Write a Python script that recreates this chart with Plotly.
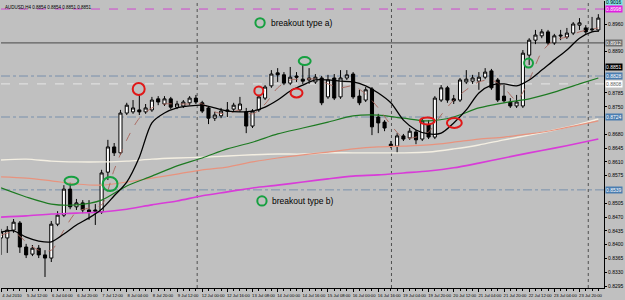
import plotly.graph_objects as go

# ---------------- data (AUDUSD H4) ----------------
open_ = [0.8417,0.8417,0.8437,0.8455,0.8394,0.8376,0.8391,0.8374,0.8366,0.8452,
         0.8475,0.8541,0.8496,0.8506,0.8488,0.8488,0.8483,0.8584,0.8648,0.8633,
         0.8734,0.8737,0.8742,0.8737,0.8742,0.8770,0.8757,0.8770,0.8749,0.8752,
         0.8760,0.8772,0.8760,0.8747,0.8721,0.8727,0.8742,0.8744,0.8742,0.8737,
         0.8701,0.8742,0.8772,0.8803,0.8836,0.8831,0.8810,0.8828,0.8820,0.8818,
         0.8813,0.8823,0.8775,0.8823,0.8775,0.8823,0.8833,0.8777,0.8767,0.8795,
         0.8724,0.8711,0.8655,0.8650,0.8676,0.8671,0.8686,0.8668,0.8704,0.8673,
         0.8767,0.8798,0.8770,0.8767,0.8813,0.8815,0.8815,0.8825,0.8841,0.8818,
         0.8777,0.8762,0.8752,0.8752,0.8881,0.8919,0.8930,0.8940,0.8912,0.8932,
         0.8927,0.8937,0.8957,0.8950,0.8945,0.8945]
high = [0.8440,0.8447,0.8465,0.8460,0.8402,0.8399,0.8399,0.8386,0.8460,0.8485,
        0.8551,0.8557,0.8516,0.8513,0.8513,0.8503,0.8590,0.8666,0.8658,0.8742,
        0.8760,0.8767,0.8780,0.8757,0.8775,0.8777,0.8777,0.8775,0.8765,0.8767,
        0.8777,0.8780,0.8765,0.8752,0.8737,0.8747,0.8762,0.8760,0.8775,0.8747,
        0.8744,0.8780,0.8805,0.8843,0.8848,0.8838,0.8851,0.8838,0.8856,0.8848,
        0.8833,0.8828,0.8831,0.8833,0.8843,0.8843,0.8838,0.8793,0.8800,0.8800,
        0.8732,0.8716,0.8663,0.8683,0.8681,0.8696,0.8691,0.8721,0.8716,0.8777,
        0.8805,0.8803,0.8780,0.8823,0.8843,0.8831,0.8838,0.8848,0.8846,0.8823,
        0.8805,0.8772,0.8780,0.8894,0.8924,0.8945,0.8947,0.8945,0.8935,0.8945,
        0.8950,0.8965,0.8975,0.8957,0.8978,0.8985]
low = [0.8374,0.8379,0.8430,0.8379,0.8366,0.8371,0.8366,0.8318,0.8356,0.8447,
       0.8470,0.8490,0.8488,0.8480,0.8463,0.8450,0.8478,0.8564,0.8625,0.8628,
       0.8729,0.8732,0.8729,0.8732,0.8737,0.8754,0.8752,0.8744,0.8744,0.8747,
       0.8754,0.8757,0.8734,0.8706,0.8714,0.8721,0.8724,0.8737,0.8737,0.8683,
       0.8696,0.8737,0.8767,0.8798,0.8813,0.8805,0.8805,0.8813,0.8808,0.8808,
       0.8808,0.8754,0.8770,0.8767,0.8770,0.8818,0.8770,0.8754,0.8762,0.8678,
       0.8683,0.8688,0.8645,0.8633,0.8663,0.8666,0.8655,0.8663,0.8668,0.8668,
       0.8762,0.8760,0.8757,0.8762,0.8808,0.8808,0.8793,0.8820,0.8793,0.8762,
       0.8760,0.8747,0.8747,0.8747,0.8856,0.8909,0.8924,0.8907,0.8907,0.8919,
       0.8922,0.8932,0.8945,0.8935,0.8940,0.8940]
close = [0.8432,0.8437,0.8457,0.8394,0.8374,0.8391,0.8374,0.8366,0.8452,0.8475,
         0.8541,0.8496,0.8506,0.8488,0.8483,0.8485,0.8582,0.8648,0.8633,0.8734,
         0.8754,0.8747,0.8737,0.8747,0.8767,0.8762,0.8770,0.8749,0.8757,0.8762,
         0.8772,0.8762,0.8739,0.8721,0.8729,0.8739,0.8739,0.8754,0.8757,0.8701,
         0.8739,0.8775,0.8800,0.8833,0.8831,0.8810,0.8825,0.8825,0.8815,0.8823,
         0.8825,0.8760,0.8818,0.8772,0.8823,0.8831,0.8775,0.8760,0.8793,0.8699,
         0.8709,0.8696,0.8650,0.8676,0.8668,0.8688,0.8666,0.8714,0.8673,0.8772,
         0.8798,0.8767,0.8765,0.8818,0.8820,0.8823,0.8825,0.8838,0.8798,0.8767,
         0.8765,0.8752,0.8762,0.8886,0.8919,0.8932,0.8940,0.8912,0.8930,0.8930,
         0.8937,0.8960,0.8963,0.8940,0.8947,0.8975]
bars = list(range(len(close)))

# moving-average lines
idx2 = list(range(0, 95, 2)) + [95]
ma_black = [0.8432,0.8435,0.8419,0.8409,0.8407,0.8427,0.8450,0.8468,0.8490,0.8524,
            0.8559,0.8622,0.8709,0.8734,0.8747,0.8752,0.8754,0.8747,0.8739,0.8737,
            0.8739,0.8749,0.8767,0.8790,0.8805,0.8818,0.8818,0.8815,0.8813,0.8803,
            0.8785,0.8760,0.8716,0.8691,0.8681,0.8683,0.8709,0.8742,0.8785,0.8805,
            0.8808,0.8803,0.8818,0.8843,0.8869,0.8894,0.8924,0.8940,0.8942]
ma_fast = [0.8424,0.8432,0.8407,0.8386,0.8386,0.8437,0.8483,0.8493,0.8501,0.8590,
           0.8666,0.8721,0.8747,0.8757,0.8757,0.8757,0.8757,0.8737,0.8732,0.8742,
           0.8732,0.8757,0.8798,0.8818,0.8820,0.8820,0.8808,0.8798,0.8803,0.8782,
           0.8747,0.8704,0.8671,0.8673,0.8686,0.8729,0.8767,0.8793,0.8813,0.8818,
           0.8798,0.8767,0.8818,0.8889,0.8919,0.8927,0.8940,0.8947,0.8950]
idx4 = list(range(0, 93, 4)) + [95]
ma_green = [0.8544,0.8521,0.8503,0.8501,0.8513,0.8549,0.8574,0.8600,0.8620,0.8643,
            0.8660,0.8681,0.8696,0.8711,0.8727,0.8729,0.8721,0.8714,0.8724,0.8747,
            0.8760,0.8770,0.8787,0.8808,0.8823]
ma_salmon = [0.8572,0.8569,0.8562,0.8554,0.8551,0.8559,0.8569,0.8579,0.8590,0.8597,
             0.8610,0.8620,0.8628,0.8635,0.8643,0.8648,0.8650,0.8653,0.8660,0.8668,
             0.8673,0.8681,0.8691,0.8704,0.8714]
ma_white = [0.8615,0.8617,0.8612,0.8610,0.8610,0.8612,0.8617,0.8620,0.8622,0.8625,
            0.8628,0.8630,0.8630,0.8633,0.8633,0.8633,0.8633,0.8635,0.8643,0.8653,
            0.8666,0.8678,0.8691,0.8706,0.8719]
ma_magenta = [0.8470,0.8473,0.8478,0.8480,0.8483,0.8490,0.8501,0.8511,0.8524,0.8534,
              0.8544,0.8551,0.8559,0.8567,0.8574,0.8577,0.8582,0.8587,0.8595,0.8607,
              0.8620,0.8633,0.8645,0.8658,0.8668]

time_labels = ["4 Jul 2010","5 Jul 12:00","6 Jul 04:00","6 Jul 20:00","7 Jul 12:00",
               "8 Jul 04:00","8 Jul 20:00","9 Jul 12:00","12 Jul 00:00","12 Jul 16:00",
               "13 Jul 08:00","14 Jul 00:00","14 Jul 16:00","15 Jul 08:00","16 Jul 00:00",
               "16 Jul 16:00","19 Jul 04:00","19 Jul 20:00","20 Jul 12:00","21 Jul 04:00",
               "21 Jul 20:00","22 Jul 12:00","23 Jul 04:00","23 Jul 20:00"]
time_ticks = [4 * k for k in range(len(time_labels))]

price_ticks = [0.8960,0.8890,0.8785,0.8750,0.8680,0.8645,0.8610,0.8575,
               0.8505,0.8470,0.8435,0.8400,0.8365,0.8330,0.8295]

# horizontal levels: price, colour, dash
levels = [(0.8998, "#d048d0", "dash"), (0.8912, "#484848", "solid"),
          (0.8828, "#7890ac", "dashdot"), (0.8808, "#e6e6e6", "dash"),
          (0.8724, "#7890ac", "dashdot"), (0.8539, "#7890ac", "dashdot")]
# price tags on the right axis: price, background, text colour
tags = [(0.9016, "#7fe6e6", "black"), (0.8998, "#e020e0", "white"),
        (0.8912, "#707070", "white"), (0.8851, "#000000", "white"),
        (0.8828, "#4a7db0", "white"), (0.8808, "#ffffff", "#606060"),
        (0.8724, "#4a7db0", "white"), (0.8539, "#4a7db0", "white")]
separators = [31.2, 62.1, 93.4]

# marked breakouts: bar, price, x-radius (bars), y-radius (price)
red_marks = [(21.9, 0.8795, 0.95, 0.00152), (41.0, 0.8790, 0.71, 0.00114),
             (47.0, 0.8785, 0.95, 0.00114), (67.8, 0.8714, 1.18, 0.00089),
             (72.1, 0.8709, 1.18, 0.00127)]
green_marks = [(48.3, 0.8866, 0.95, 0.00102), (83.9, 0.8861, 0.71, 0.00114),
               (11.2, 0.8562, 1.10, 0.00102), (17.35, 0.8554, 1.18, 0.00178),
               (41.2, 0.8963, 0.74, 0.00119), (41.5, 0.8511, 0.74, 0.00119)]
notes = [(42.6, 0.8963, "breakout type a)"), (42.8, 0.8511, "breakout type b)")]

# ---------------- figure ----------------
fig = go.Figure()
fig.add_trace(go.Candlestick(
    x=bars, open=open_, high=high, low=low, close=close,
    increasing=dict(fillcolor="white", line=dict(color="black", width=1)),
    decreasing=dict(fillcolor="black", line=dict(color="black", width=1)),
    whiskerwidth=0, hoverinfo="skip"))

def add_line(xs, ys, color, width, dash="solid"):
    fig.add_trace(go.Scatter(x=xs, y=ys, mode="lines",
                             line=dict(color=color, width=width, dash=dash, shape="spline", smoothing=0.8),
                             hoverinfo="skip"))

add_line(idx4, ma_magenta, "#d83cd8", 1.6)
add_line(idx4, ma_white, "#f4efe2", 1.4)
add_line(idx4, ma_salmon, "#e8937e", 1.2)
add_line(idx4, ma_green, "#1d7a22", 1.2)
add_line(idx2, ma_fast, "#a8645a", 0.9, "dash")
add_line(idx2, ma_black, "black", 1.3)

shapes = []
for p, c, d in levels:
    shapes.append(dict(type="line", xref="paper", x0=0, x1=1, yref="y", y0=p, y1=p,
                       line=dict(color=c, width=1, dash=d), layer="below"))
for s in separators:
    shapes.append(dict(type="line", xref="x", x0=s, x1=s, yref="paper", y0=0, y1=1,
                       line=dict(color="#505050", width=1, dash="dot"), layer="below"))
for marks, col in ((red_marks, "#e01818"), (green_marks, "#16a040")):
    for bx, py, rx, ry in marks:
        shapes.append(dict(type="circle", xref="x", yref="y",
                           x0=bx - rx, x1=bx + rx, y0=py - ry, y1=py + ry,
                           line=dict(color=col, width=2)))

annotations = [dict(xref="paper", yref="paper", x=0, y=1, xanchor="left", yanchor="top",
                    xshift=2, yshift=-2, showarrow=False,
                    text="AUDUSD,H4 0.8854 0.8854 0.8851 0.8851",
                    font=dict(size=4.5, color="black", family="Liberation Sans"))]
for bx, py, t in notes:
    annotations.append(dict(xref="x", yref="y", x=bx, y=py, xanchor="left", yanchor="middle",
                            showarrow=False, text=t,
                            font=dict(size=8.5, color="black", family="Liberation Sans")))
for p, bg, fc in tags:
    annotations.append(dict(xref="paper", yref="y", x=1, y=p, xanchor="left", yanchor="middle",
                            xshift=1, showarrow=False, text=f"{p:.4f}", bgcolor=bg,
                            borderpad=0, font=dict(size=5, color=fc, family="Liberation Sans")))

fig.update_layout(
    width=625, height=300, margin=dict(l=1, r=16, t=1, b=12),
    paper_bgcolor="#c0c0c0", plot_bgcolor="#c0c0c0", showlegend=False,
    shapes=shapes, annotations=annotations,
    xaxis=dict(range=[0, 95.9], rangeslider=dict(visible=False), showgrid=False, zeroline=False,
               showline=True, linecolor="black", linewidth=1,
               tickmode="array", tickvals=time_ticks, ticktext=time_labels, tickangle=0,
               ticks="outside", ticklen=3, tickcolor="black", ticklabelshift=11,
               ticklabelstandoff=0,
               tickfont=dict(size=4.2, color="black", family="Liberation Sans"),
               minor=dict(tickmode="linear", tick0=0, dtick=1, ticks="outside", ticklen=2,
                          tickcolor="black")),
    yaxis=dict(range=[0.8290, 0.90184], side="right", showgrid=False, zeroline=False,
               showline=True, linecolor="black", linewidth=1,
               tickmode="array", tickvals=price_ticks, ticktext=[f"{v:.4f}" for v in price_ticks],
               ticks="outside", ticklen=2, tickcolor="black",
               tickfont=dict(size=5, color="black", family="Liberation Sans")),
)

fig.write_html("out.html")
